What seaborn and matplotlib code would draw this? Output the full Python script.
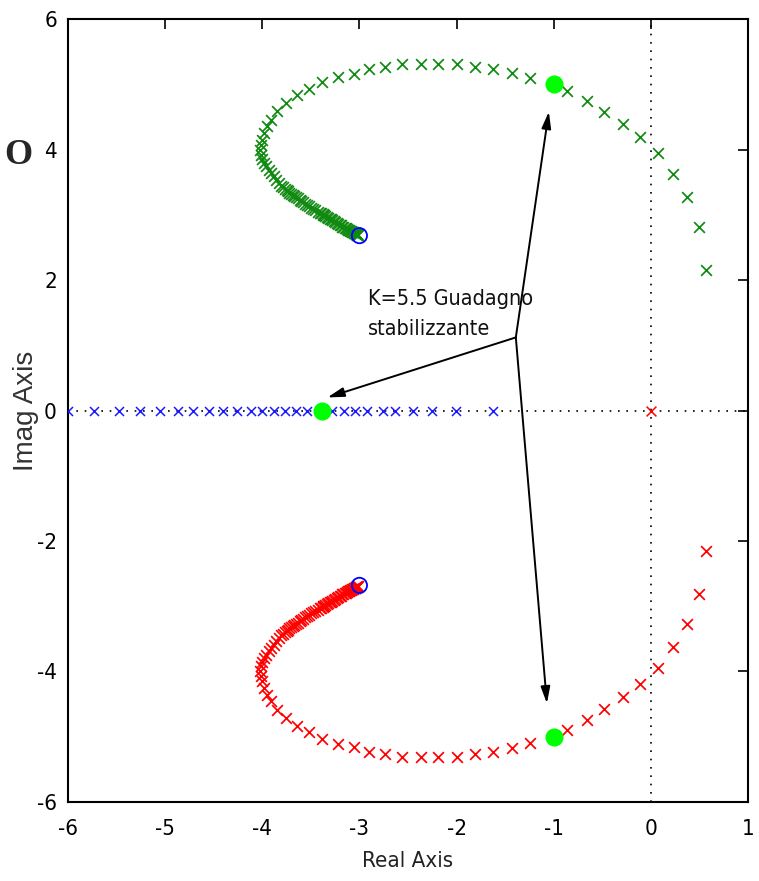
import matplotlib
matplotlib.use("Agg")
import matplotlib.pyplot as plt
import seaborn as sns

# ---- data ----
green_re = [0.57, 0.50, 0.37, 0.23, 0.07, -0.11, -0.29, -0.48, -0.66, -0.86,
            -1.24, -1.43, -1.62, -1.81, -2.00, -2.19, -2.37, -2.56, -2.74, -2.90,
            -3.06, -3.22, -3.39, -3.52, -3.64, -3.76, -3.85, -3.91, -3.95, -3.98,
            -4.00, -4.01, -4.02, -4.01, -4.00, -3.98, -3.96, -3.93, -3.91, -3.88,
            -3.86, -3.83, -3.81, -3.79, -3.77, -3.75, -3.74, -3.72, -3.70, -3.68,
            -3.67, -3.65, -3.63, -3.61, -3.60, -3.58, -3.56, -3.54, -3.52, -3.50,
            -3.48, -3.46, -3.43, -3.41, -3.40, -3.38, -3.37, -3.36, -3.35, -3.33,
            -3.32, -3.30, -3.29, -3.28, -3.26, -3.25, -3.23, -3.22, -3.20, -3.19,
            -3.18, -3.17, -3.15, -3.14, -3.13, -3.12, -3.11, -3.10, -3.09, -3.08,
            -3.07, -3.06, -3.05, -3.045, -3.04, -3.035, -3.03, -3.025, -3.02, -3.01]
green_im = [2.15, 2.82, 3.27, 3.63, 3.94, 4.19, 4.39, 4.58, 4.75, 4.89,
            5.10, 5.17, 5.24, 5.27, 5.31, 5.31, 5.31, 5.31, 5.27, 5.24,
            5.16, 5.11, 5.03, 4.92, 4.83, 4.72, 4.59, 4.45, 4.36, 4.25,
            4.15, 4.07, 3.99, 3.92, 3.85, 3.79, 3.74, 3.69, 3.64, 3.59,
            3.54, 3.49, 3.44, 3.42, 3.40, 3.38, 3.36, 3.34, 3.32, 3.30,
            3.28, 3.27, 3.25, 3.23, 3.21, 3.19, 3.17, 3.15, 3.13, 3.11,
            3.09, 3.07, 3.05, 3.03, 3.02, 3.01, 3.00, 2.99, 2.98, 2.96,
            2.95, 2.94, 2.93, 2.92, 2.90, 2.89, 2.87, 2.86, 2.85, 2.84,
            2.82, 2.81, 2.80, 2.79, 2.78, 2.77, 2.76, 2.755, 2.75, 2.74,
            2.73, 2.725, 2.72, 2.715, 2.71, 2.705, 2.70, 2.70, 2.695, 2.69]
red_re = [0.57, 0.50, 0.37, 0.23, 0.07, -0.11, -0.29, -0.48, -0.66, -0.86,
          -1.24, -1.43, -1.62, -1.81, -2.00, -2.19, -2.37, -2.56, -2.74, -2.90,
          -3.06, -3.22, -3.39, -3.52, -3.64, -3.76, -3.85, -3.91, -3.95, -3.98,
          -4.00, -4.01, -4.02, -4.01, -4.00, -3.98, -3.96, -3.93, -3.91, -3.88,
          -3.86, -3.83, -3.81, -3.79, -3.77, -3.75, -3.74, -3.72, -3.70, -3.68,
          -3.67, -3.65, -3.63, -3.61, -3.60, -3.58, -3.56, -3.54, -3.52, -3.50,
          -3.48, -3.46, -3.43, -3.41, -3.40, -3.38, -3.37, -3.36, -3.35, -3.33,
          -3.32, -3.30, -3.29, -3.28, -3.26, -3.25, -3.23, -3.22, -3.20, -3.19,
          -3.18, -3.17, -3.15, -3.14, -3.13, -3.12, -3.11, -3.10, -3.09, -3.08,
          -3.07, -3.06, -3.05, -3.045, -3.04, -3.035, -3.03, -3.025, -3.02, -3.01]
red_im = [-2.15, -2.82, -3.27, -3.63, -3.94, -4.19, -4.39, -4.58, -4.75, -4.89,
          -5.10, -5.17, -5.24, -5.27, -5.31, -5.31, -5.31, -5.31, -5.27, -5.24,
          -5.16, -5.11, -5.03, -4.92, -4.83, -4.72, -4.59, -4.45, -4.36, -4.25,
          -4.15, -4.07, -3.99, -3.92, -3.85, -3.79, -3.74, -3.69, -3.64, -3.59,
          -3.54, -3.49, -3.44, -3.42, -3.40, -3.38, -3.36, -3.34, -3.32, -3.30,
          -3.28, -3.27, -3.25, -3.23, -3.21, -3.19, -3.17, -3.15, -3.13, -3.11,
          -3.09, -3.07, -3.05, -3.03, -3.02, -3.01, -3.00, -2.99, -2.98, -2.96,
          -2.95, -2.94, -2.93, -2.92, -2.90, -2.89, -2.87, -2.86, -2.85, -2.84,
          -2.82, -2.81, -2.80, -2.79, -2.78, -2.77, -2.76, -2.755, -2.75, -2.74,
          -2.73, -2.725, -2.72, -2.715, -2.71, -2.705, -2.70, -2.70, -2.695, -2.69]
blue_re = [-6.00, -5.73, -5.47, -5.26, -5.05, -4.87, -4.71, -4.55, -4.40, -4.26,
           -4.12, -4.00, -3.88, -3.77, -3.65, -3.54, -3.39, -3.28, -3.16, -3.05,
           -2.92, -2.76, -2.63, -2.45, -2.25, -2.01, -1.63]
blue_im = [0.0] * len(blue_re)
origin_pole_re = [0.0]
origin_pole_im = [0.0]
zeros_re = [-3.0, -3.0]
zeros_im = [2.68, -2.68]
stab_re = [-1.0, -3.39, -1.0]
stab_im = [5.0, 0.0, -5.0]
arrow_tips = [(-1.05, 4.58), (-3.33, 0.20), (-1.07, -4.49)]
arrow_origin = (-1.39, 1.12)
annotation_text = "K=5.5 Guadagno\nstabilizzante"
x_ticks = [-6, -5, -4, -3, -2, -1, 0, 1]
y_ticks = [-6, -4, -2, 0, 2, 4, 6]

# ---- figure ----
sns.set_style("white")
narrow = ["DejaVu Sans", "Liberation Sans"]
plt.rcParams["font.family"] = narrow
plt.rcParams["font.stretch"] = "condensed"

fig = plt.figure(figsize=(7.59, 8.81), dpi=100)
ax = fig.add_axes([0.0896, 0.0897, 0.8959, 0.8887])

ax.axhline(0, color="black", ls=(0, (1, 4)), lw=1.2, zorder=1)
ax.axvline(0, color="black", ls=(0, (1, 4)), lw=1.2, zorder=1)

sns.scatterplot(x=green_re, y=green_im, marker="x", color="#118a11", s=60,
                linewidth=1.25, ax=ax, zorder=3)
sns.scatterplot(x=red_re, y=red_im, marker="x", color="#ff0000", s=60,
                linewidth=1.25, ax=ax, zorder=3)
sns.scatterplot(x=blue_re, y=blue_im, marker="x", color="#1a1aff", s=42,
                linewidth=1.1, ax=ax, zorder=3)
sns.scatterplot(x=origin_pole_re, y=origin_pole_im, marker="x", color="#ff0000",
                s=50, linewidth=1.1, ax=ax, zorder=3)
ax.scatter(zeros_re, zeros_im, marker="o", s=120, facecolors="none",
           edgecolors="#0000ff", linewidths=1.3, zorder=4)
sns.scatterplot(x=stab_re, y=stab_im, marker="o", color="#00ff00", s=170,
                edgecolor="#00ff00", linewidth=0, ax=ax, zorder=5)

for tip in arrow_tips:
    ax.annotate("", xy=tip, xytext=arrow_origin,
                arrowprops=dict(arrowstyle="-|>,head_length=1.0,head_width=0.28",
                                color="black", lw=1.4, shrinkA=0, shrinkB=0),
                zorder=6)
ax.text(-2.91, 1.48, annotation_text, ha="left", va="center", fontsize=15.5,
        linespacing=1.6, family=narrow, stretch="condensed", color="#111111")

ax.set_xlim(-6, 1)
ax.set_ylim(-6, 6)
ax.set_xticks(x_ticks)
ax.set_yticks(y_ticks)
ax.set_xticklabels([str(t) for t in x_ticks], stretch="condensed")
ax.set_yticklabels([str(t) for t in y_ticks], stretch="condensed")
ax.tick_params(direction="in", length=7, width=1.2, top=True, right=True,
               labelsize=16, colors="black")
ax.tick_params(axis="x", pad=12)
ax.tick_params(axis="y", pad=8)
for sp in ax.spines.values():
    sp.set_visible(True)
    sp.set_color("black")
    sp.set_linewidth(1.5)

ax.set_xlabel("Real Axis", fontsize=16, family=narrow, stretch="condensed",
              color="#222222", va="top")
ax.xaxis.set_label_coords(0.5, -0.062)
ax.set_ylabel("Imag Axis", fontsize=20, family=["Liberation Sans", "DejaVu Sans"],
              stretch="normal", color="#333333")
ax.yaxis.set_label_coords(-0.042, 0.5)

fig.text(0.024, 0.824, "O", fontsize=26, fontweight="bold", ha="center",
         va="center", family=["Liberation Serif", "DejaVu Serif"],
         stretch="normal")

fig.savefig("out.png", dpi=100)
